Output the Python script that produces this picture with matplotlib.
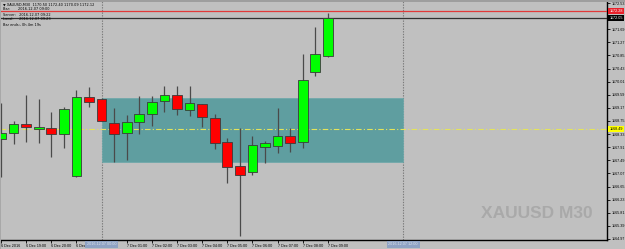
import matplotlib
matplotlib.use("Agg")
import matplotlib.pyplot as plt
import matplotlib.transforms as mtrans
from matplotlib.patches import Rectangle

# ---------------- data ----------------
opens  = [1168.17, 1168.37, 1168.65, 1168.50, 1168.54, 1168.33, 1166.99, 1169.52, 1169.46,
          1168.69, 1168.37, 1168.72, 1168.97, 1169.39, 1169.58, 1169.10, 1169.30, 1168.85,
          1168.08, 1167.31, 1167.12, 1167.92, 1167.95, 1168.27, 1168.08, 1170.32, 1170.83]
highs  = [1169.33, 1168.75, 1169.58, 1169.45, 1169.04, 1169.20, 1169.74, 1169.84, 1169.50,
          1169.17, 1168.94, 1169.55, 1169.55, 1169.87, 1169.87, 1169.87, 1169.30, 1168.97,
          1168.21, 1168.53, 1168.27, 1168.11, 1169.17, 1168.53, 1170.90, 1171.76, 1172.21]
lows   = [1166.96, 1168.01, 1168.08, 1168.05, 1167.60, 1167.88, 1166.97, 1169.20, 1168.74,
          1167.44, 1167.50, 1168.33, 1168.59, 1169.04, 1168.94, 1168.91, 1168.56, 1167.85,
          1166.76, 1165.06, 1167.02, 1167.40, 1167.72, 1167.76, 1167.88, 1170.19, 1170.80]
closes = [1168.37, 1168.65, 1168.56, 1168.55, 1168.34, 1169.14, 1169.52, 1169.36, 1168.75,
          1168.33, 1168.72, 1168.97, 1169.36, 1169.58, 1169.14, 1169.33, 1168.88, 1168.05,
          1167.27, 1167.02, 1167.98, 1168.05, 1168.27, 1168.05, 1170.06, 1170.90, 1172.05]

time_tick_idx = [0, 2, 4, 6, 10, 12, 14, 16, 18, 20, 22, 24, 26]
time_tick_labels = ["6 Dec 2016", "6 Dec 19:00", "6 Dec 20:00", "6 Dec 23:00",
                    "7 Dec 01:00", "7 Dec 02:00", "7 Dec 03:00", "7 Dec 04:00",
                    "7 Dec 05:00", "7 Dec 06:00", "7 Dec 07:00", "7 Dec 08:00",
                    "7 Dec 09:00"]
price_ticks = [1164.97, 1165.39, 1165.81, 1166.23, 1166.65, 1167.07, 1167.49, 1167.91,
               1168.33, 1168.75, 1169.17, 1169.59, 1170.01, 1170.43, 1170.85, 1171.27,
               1171.69, 1172.53]

rect_x = [8, 32]
rect_price = [1167.44, 1169.49]
separator_idx = [8, 32]
separator_labels = ["2016.12.07 00:00", "2016.12.07 12:00"]
yellow_level = 1168.49
red_level = 1172.28
bid_level = closes[-1]

info_lines = ["\u25BC XAUUSD,M30  1170.50 1172.40 1170.09 1172.12",
              "Bar:       2016.12.07 09:00",
              "Server:   2016.12.07 09:22",
              "Local:     2016.12.07 09:23",
              "Bar ends:, 0h 4m 19s"]
watermark = "XAUUSD M30"

# ---------------- figure ----------------
BG = "#C0C0C0"
W, H = 625, 249
fig = plt.figure(figsize=(W / 100, H / 100), dpi=100)
fig.patch.set_facecolor(BG)
ax = fig.add_axes([0, 9 / H, 607 / W, 240 / H])
ax.set_facecolor(BG)
ax.set_xlim(-0.08, 48.21)
ax.set_ylim(1164.935, 1172.629)

for s in ("top", "left"):
    ax.spines[s].set_visible(False)
for s in ("right", "bottom"):
    ax.spines[s].set_color("#000000")
    ax.spines[s].set_linewidth(1.0)

small = dict(family="Liberation Sans", fontsize=2.7)

# period separators
for xi in separator_idx:
    ax.axvline(xi, color="#7a7a7a", lw=0.8, ls=(0, (1.2, 1.2)), zorder=1)

# rectangle object
ax.add_patch(Rectangle((rect_x[0], rect_price[0]), rect_x[1] - rect_x[0],
                       rect_price[1] - rect_price[0], facecolor="#5F9EA0",
                       edgecolor="#6aa8aa", lw=0.5, zorder=2))

# horizontal lines
ax.axhline(yellow_level, color="#E4E45A", lw=0.8, ls=(0, (5, 2, 1, 2)), zorder=3)
ax.axhline(red_level, color="#E23A3A", lw=0.9, zorder=3)
ax.axhline(bid_level, color="#303030", lw=0.9, zorder=3)

# candles
x = list(range(len(opens)))
up = [c >= o for o, c in zip(opens, closes)]
ax.vlines(x, lows, highs, color="#4a4a4a", lw=0.9, zorder=4)
bottoms = [min(o, c) for o, c in zip(opens, closes)]
heights = [max(abs(c - o), 0.02) for o, c in zip(opens, closes)]
colors = ["#00FF00" if u else "#FF0000" for u in up]
ax.bar(x, heights, bottom=bottoms, width=0.78, color=colors,
       edgecolor="#3a3a3a", linewidth=0.6, zorder=5)

# axes ticks
ax.yaxis.tick_right()
ax.set_yticks(price_ticks)
ax.set_yticklabels([f"{v:.2f}" for v in price_ticks], **small)
ax.tick_params(axis="y", length=2, width=0.6, pad=1, colors="#000000")
ax.set_xticks(time_tick_idx)
ax.set_xticklabels(time_tick_labels, ha="left", **small)
ax.tick_params(axis="x", length=2, width=0.6, pad=0.8, colors="#000000")
for lab in ax.get_xticklabels():
    lab.set_x(lab.get_position()[0])

# price labels on right scale
tr = mtrans.blended_transform_factory(ax.transAxes, ax.transData)
for val, fc, tc in [(red_level, "#E8202A", "#FFFFFF"),
                    (bid_level, "#000000", "#FFFFFF"),
                    (yellow_level, "#FFFF00", "#000000")]:
    ax.text(1.004, val, f"{val:.2f}", transform=tr, ha="left", va="center",
            color=tc, clip_on=False, zorder=10,
            bbox=dict(boxstyle="square,pad=0.35", fc=fc, ec="none"), **small)

# time highlight labels on bottom scale
trx = mtrans.blended_transform_factory(ax.transData, ax.transAxes)
for xi, lab in zip(separator_idx, separator_labels):
    ax.text(xi, -0.0175, lab, transform=trx, ha="center", va="center",
            color="#DDE3EC", clip_on=False, zorder=10,
            bbox=dict(boxstyle="square,pad=0.45", fc="#8FA3C4", ec="none"), **small)

# info text top-left
for i, line in enumerate(info_lines):
    fig.text(3 / W, 1 - (4.5 + 5 * i) / H, line, ha="left", va="center",
             color="#000000", family=["DejaVu Sans"], fontsize=2.5)

# watermark
fig.text(481 / W, 1 - 218 / H, watermark, ha="left", va="baseline",
         family="Liberation Sans", fontweight="bold", fontsize=12.5, color="#A9A9A9")

# window border strips
fig.patches.append(Rectangle((0, 1 - 2 / H), 1, 2 / H, transform=fig.transFigure,
                             facecolor="#9E9E9E", edgecolor="none", zorder=20))
fig.patches.append(Rectangle((0, 0), 1.5 / W, 1, transform=fig.transFigure,
                             facecolor="#A8A8A8", edgecolor="none", zorder=20))

fig.savefig("out.png", dpi=100, facecolor=fig.get_facecolor())
